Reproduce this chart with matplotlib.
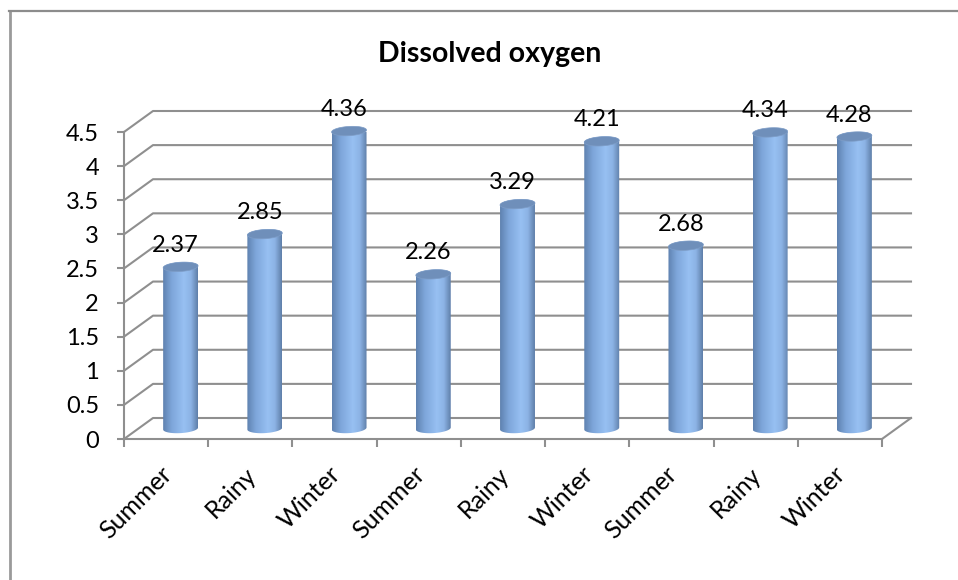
import numpy as np
import matplotlib
matplotlib.use("Agg")
import matplotlib.pyplot as plt
from matplotlib.colors import LinearSegmentedColormap
from matplotlib.patches import Polygon
from matplotlib.transforms import Affine2D

title = "Dissolved oxygen"
seasons = ["Summer", "Rainy", "Winter", "Summer", "Rainy", "Winter", "Summer", "Rainy", "Winter"]
oxygen = [2.37, 2.85, 4.36, 2.26, 3.29, 4.21, 2.68, 4.34, 4.28]
y_ticks = [0, 0.5, 1, 1.5, 2, 2.5, 3, 3.5, 4, 4.5]
y_labels = ["0", "0.5", "1", "1.5", "2", "2.5", "3", "3.5", "4", "4.5"]

plt.rcParams["font.family"] = ["Lato", "DejaVu Sans"]
W, H = 958, 580
fig = plt.figure(figsize=(W / 100, H / 100), dpi=100, facecolor="white")
L, R, B, T = 124, 882, 439, 132
ax = fig.add_axes([L / W, 1 - B / H, (R - L) / W, (B - T) / H])
n = len(seasons)
ymax = y_ticks[-1]
sx, sy = n / (R - L), ymax / (B - T)   # data units per pixel
dx, dy = 29 * sx, 21 * sy              # chart depth
GRID = "#8f8f8f"
LW = 1.5

# outer frame (left and top only)
fig.add_artist(plt.Line2D([10 / W, 10 / W], [0, 1 - 11 / H], color="#9a9a9a", lw=2.0))
fig.add_artist(plt.Line2D([9 / W, 1], [1 - 11 / H, 1 - 11 / H], color="#8c8c8c", lw=1.6))

# back wall gridlines and side wall
for v in y_ticks:
    ax.plot([0, dx, n + dx], [v, v + dy, v + dy], color=GRID, lw=LW, clip_on=False, zorder=1,
            solid_joinstyle="round")
ax.plot([n, n + dx], [0, dy], color=GRID, lw=LW, clip_on=False, zorder=1)

cmap = LinearSegmentedColormap.from_list(
    "cyl", [(0, "#5f82b0"), (0.25, "#7ea6da"), (0.6, "#97c0f2"), (0.8, "#8cb3e5"), (1, "#5f7fa9")])
grad = np.linspace(0, 1, 128)[None, :]

a, b, phi = 17.5, 4.6, np.radians(3.5)   # cylinder cap, pixels
t = np.linspace(0, 2 * np.pi, 90)
ex = a * np.cos(t) * np.cos(phi) - b * np.sin(t) * np.sin(phi)
ey = a * np.cos(t) * np.sin(phi) + b * np.sin(t) * np.cos(phi)
for i, v in enumerate(oxygen):
    cx = i + 0.5 + dx / 2
    base = dy / 2
    top = base + v
    low = t > np.pi
    bx, by = cx + ex[low] * sx, base + ey[low] * sy
    tx, ty = cx + ex[~low] * sx, top + ey[~low] * sy
    side = Polygon(np.r_[np.c_[bx, by], np.c_[tx, ty]], closed=True, transform=ax.transData,
                   fc="none", ec="none", clip_on=False)
    ax.add_patch(side)
    im = ax.imshow(grad, cmap=cmap, aspect="auto", zorder=3,
                   extent=[cx - a * sx, cx + a * sx, base - 6 * sy, top + 6 * sy])
    im.set_clip_path(side)
    ax.add_patch(Polygon(np.c_[cx + ex * sx, top + ey * sy], closed=True, clip_on=False,
                         fc="#6f8fba", ec="#7d9cc6", lw=0.5, zorder=4))
    ax.annotate(f"{v:.2f}", (cx, top), xytext=(-5, 15), textcoords="offset pixels",
                ha="center", va="baseline", fontsize=17, color="black", zorder=5,
                annotation_clip=False)

ax.set_xlim(0, n)
ax.set_ylim(0, ymax)
ax.patch.set_visible(False)
for s in ("top", "right"):
    ax.spines[s].set_visible(False)
for s in ("left", "bottom"):
    ax.spines[s].set_color(GRID)
    ax.spines[s].set_linewidth(LW)
    ax.spines[s].set_zorder(2)

ax.set_yticks(y_ticks, y_labels, fontsize=17)
ax.tick_params(axis="y", length=5, width=LW, color=GRID, pad=13)
ax.set_xticks(np.arange(n + 1), [""] * (n + 1))
ax.tick_params(axis="x", which="major", length=6, width=LW, color=GRID)
ax.set_xticks(np.arange(n) + 0.5, seasons, minor=True, rotation=45, ha="right",
              rotation_mode="anchor", fontsize=18)
ax.tick_params(axis="x", which="minor", length=0, pad=17)
for lab in ax.get_xticklabels(minor=True):
    lab.set_transform(lab.get_transform() + Affine2D().translate(-6, 0))

fig.text(490 / W, 1 - 62 / H, title, ha="center", va="baseline", fontsize=20.5, fontweight="bold")
fig.savefig("out.png", dpi=100, facecolor="white")
